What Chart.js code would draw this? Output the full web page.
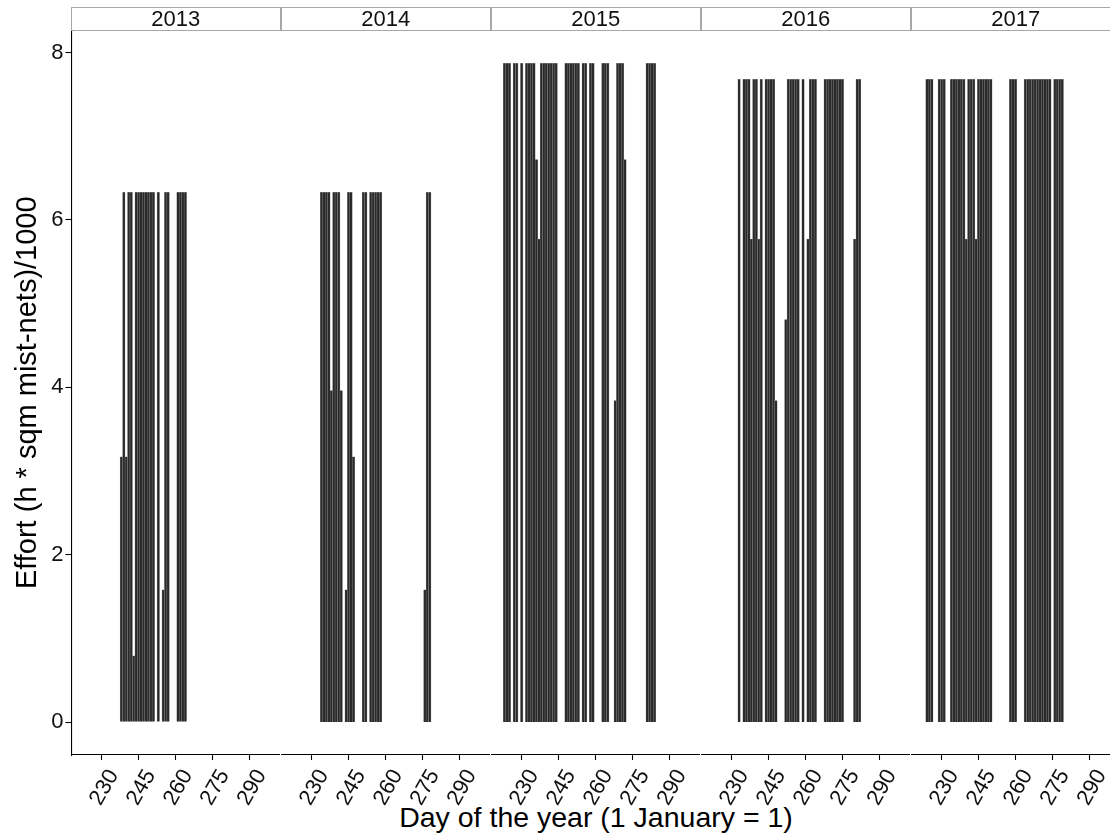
<!DOCTYPE html>
<html>
<head>
<meta charset="utf-8">
<script src="https://cdn.jsdelivr.net/npm/chart.js@4.4.1/dist/chart.umd.min.js"></script>
<style>
html,body{margin:0;padding:0;background:#fff;overflow:hidden;width:1110px;height:834px;}
#wrap{position:relative;width:1110px;height:834px;overflow:hidden;font-family:"Liberation Sans",Arial,sans-serif;}
#wrap canvas{position:absolute;top:0;}
.strip{position:absolute;top:7px;height:24px;box-sizing:border-box;border:1px solid #a8a8a8;background:#fff;text-align:center;font-size:22px;line-height:22px;color:#111;z-index:2;}
#xtitle{position:absolute;left:0;width:1192px;top:800px;height:34px;line-height:34px;text-align:center;font-size:28.5px;color:#000;}
</style>
</head>
<body>
<div id="wrap"><div id="xtitle">Day of the year (1 January = 1)</div></div>
<script>
// ---- data ----
const years = ['2013', '2014', '2015', '2016', '2017'];

const days2013 = [238,239,240,241,242,243,244,245,246,247,248,249,250,251,253,255,256,257,261,262,263,264];
const effort2013 = [3.17,6.33,3.17,6.33,6.33,0.79,6.33,6.33,6.33,6.33,6.33,6.33,6.33,6.33,6.33,1.58,6.33,6.33,6.33,6.33,6.33,6.33];

const days2014 = [234,235,236,237,238,239,240,241,242,244,245,246,247,251,252,254,255,256,257,258,276,277,278];
const effort2014 = [6.33,6.33,6.33,6.33,3.96,6.33,6.33,6.33,3.96,1.58,6.33,6.33,3.17,6.33,6.33,6.33,6.33,6.33,6.33,6.33,1.58,6.33,6.33];

const days2015 = [223,224,225,227,228,230,232,233,234,235,236,237,238,239,240,241,242,243,244,248,249,250,251,252,253,255,256,258,259,263,264,265,268,269,270,271,272,281,282,283,284];
const effort2015 = [7.87,7.87,7.87,7.87,7.87,7.87,7.87,7.87,7.87,7.87,6.72,5.77,7.87,7.87,7.87,7.87,7.87,7.87,7.87,7.87,7.87,7.87,7.87,7.87,7.87,7.87,7.87,7.87,7.87,7.87,7.87,7.87,3.84,7.87,7.87,7.87,6.72,7.87,7.87,7.87,7.87];

const days2016 = [233,235,236,237,238,239,240,241,242,244,245,246,247,248,252,253,254,255,256,257,259,261,262,263,264,268,269,270,271,272,273,274,275,280,281,282];
const effort2016 = [7.68,7.68,7.68,7.68,5.77,7.68,7.68,5.77,7.68,7.68,7.68,7.68,7.68,3.84,4.81,7.68,7.68,7.68,7.68,7.68,7.68,5.77,7.68,7.68,7.68,7.68,7.68,7.68,7.68,7.68,7.68,7.68,7.68,5.77,7.68,7.68];

const days2017 = [224,225,226,229,230,231,234,235,236,237,238,239,240,241,242,243,244,245,246,247,248,249,250,258,259,260,264,265,266,267,268,269,270,271,272,273,274,276,277,278,279];
const effort2017 = [7.68,7.68,7.68,7.68,7.68,7.68,7.68,7.68,7.68,7.68,7.68,7.68,5.77,7.68,7.68,7.68,5.77,7.68,7.68,7.68,7.68,7.68,7.68,7.68,7.68,7.68,7.68,7.68,7.68,7.68,7.68,7.68,7.68,7.68,7.68,7.68,7.68,7.68,7.68,7.68,7.68];

const xTickValues = [230, 245, 260, 275, 290];
const yTickValues = [0, 2, 4, 6, 8];

const yTitle = 'Effort (h * sqm mist-nets)/1000';

// ---- layout ----
const FONT = '"Liberation Sans", Arial, sans-serif';
const xMin = 217.72, xMax = 302.48;
const yMin = -0.3935, yMax = 8.2635;
const panelStep = 210;
const firstPanelLeft = 71.5;
const panelRight0 = 280;
const PAD_L = 11.5;

const seriesDays = [days2013, days2014, days2015, days2016, days2017];
const seriesEffort = [effort2013, effort2014, effort2015, effort2016, effort2017];

const wrap = document.getElementById('wrap');

years.forEach((yr, i) => {
  const first = i === 0;
  const canvasLeft = first ? 0 : 60 + panelStep * i;
  const canvasWidth = (panelRight0 + panelStep * i) - canvasLeft;
  const cv = document.createElement('canvas');
  cv.width = canvasWidth; cv.height = 834;
  cv.style.left = canvasLeft + 'px';
  cv.style.width = canvasWidth + 'px';
  cv.style.height = '834px';
  wrap.appendChild(cv);

  const strip = document.createElement('div');
  strip.className = 'strip';
  const sl = firstPanelLeft + panelStep * i;
  strip.style.left = (sl - 0.5) + 'px';
  strip.style.width = (panelRight0 - firstPanelLeft + 1) + 'px';
  strip.textContent = yr;
  wrap.appendChild(strip);

  const pts = seriesDays[i].map((d, k) => ({ x: d, y: seriesEffort[i][k] }));

  new Chart(cv.getContext('2d'), {
    type: 'bar',
    data: {
      datasets: [{
        data: pts,
        backgroundColor: '#2a2a2a',
        borderColor: '#858585',
        borderWidth: { left: 0.5, right: 0.5, top: 0.5, bottom: 0 },
        borderSkipped: 'start',
        barPercentage: 1,
        categoryPercentage: 1
      }]
    },
    options: {
      responsive: false,
      animation: false,
      devicePixelRatio: 1,
      layout: { padding: { top: 30.5, left: first ? 0 : PAD_L, right: 0, bottom: 0 } },
      plugins: { legend: { display: false }, tooltip: { enabled: false }, title: { display: false } },
      scales: {
        x: {
          type: 'linear', min: xMin, max: xMax, offset: false,
          afterBuildTicks: s => { s.ticks = xTickValues.map(v => ({ value: v })); },
          afterFit: s => { s.height = 79; s.paddingLeft = 0; s.paddingRight = 0; },
          ticks: {
            autoSkip: false, minRotation: 60, maxRotation: 60, padding: 5, labelOffset: 12,
            color: '#111', font: { family: FONT, size: 22 },
            callback: v => String(v)
          },
          grid: { display: true, offset: false, drawOnChartArea: false, drawTicks: true, tickLength: 5, tickColor: '#000', tickWidth: 1.1 },
          border: { display: true, color: '#000', width: 1.1 }
        },
        y: {
          display: first,
          min: yMin, max: yMax,
          afterBuildTicks: s => { s.ticks = yTickValues.map(v => ({ value: v })); },
          afterFit: s => { s.width = first ? firstPanelLeft : 0; s.paddingTop = 0; s.paddingBottom = 0; },
          ticks: { padding: 2, color: '#111', font: { family: FONT, size: 22 }, callback: v => String(v) },
          grid: { display: true, offset: false, drawOnChartArea: false, drawTicks: true, tickLength: 6, tickColor: '#000', tickWidth: 1.1 },
          border: { display: true, color: '#000', width: 1.1 },
          title: { display: true, text: yTitle, color: '#000', font: { family: FONT, size: 29 }, padding: { top: 11, bottom: 0 } }
        }
      }
    }
  });
});
</script>
</body>
</html>
